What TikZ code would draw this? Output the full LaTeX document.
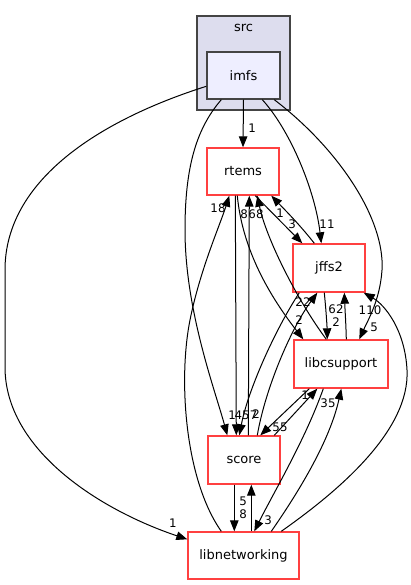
\documentclass[tikz,border=0pt]{standalone}
\usepackage{fontspec}
\setmainfont{DejaVu Sans}
\usetikzlibrary{arrows.meta,calc}
\definecolor{dxred}{HTML}{FF4040}
\definecolor{dxgray}{HTML}{444444}
\definecolor{clfill}{HTML}{DDDDEE}
\definecolor{imfill}{HTML}{EEEEFF}
\begin{document}
\begin{tikzpicture}[x=1pt,y=-1pt,
  dirbox/.style={draw=dxred,line width=1.4pt,fill=white,inner sep=0pt,
    font=\fontsize{13}{15}\selectfont},
  curbox/.style={draw=dxgray,line width=1.4pt,fill=imfill,inner sep=0pt,
    font=\fontsize{13}{15}\selectfont},
  clusterbox/.style={draw=dxgray,line width=1.2pt,fill=clfill},
  dep/.style={draw=black,line width=1pt,-{Triangle[length=11pt,width=8.5pt]}},
  lbl/.style={inner sep=0pt,font=\fontsize{11.8}{13}\selectfont}]
\useasboundingbox (0,0) rectangle (411,585);
% cluster src
\draw[clusterbox] (197,16) rectangle (290,110);
\node[inner sep=0pt,font=\fontsize{13}{15}\selectfont] (srclbl) at (243.5,28) {src};
% nodes
\node[curbox,minimum width=73pt,minimum height=47pt] (imfs) at (243.5,75.5) {imfs};
\node[dirbox,minimum width=72pt,minimum height=47pt] (rtems) at (243,171.5) {rtems};
\node[dirbox,minimum width=72pt,minimum height=48pt] (jffs2) at (329,268) {jffs2};
\node[dirbox,minimum width=94pt,minimum height=48pt] (libcsupport) at (341,364) {libcsupport};
\node[dirbox,minimum width=72pt,minimum height=48pt] (score) at (244,460) {score};
\node[dirbox,minimum width=111pt,minimum height=47pt] (libnetworking) at (243.5,555.5) {libnetworking};

% imfs edges
\draw[dep] (imfs.south) -- (rtems.north) node[lbl] at (252,128) {1};
\draw[dep] ($(imfs.north west)+(0,35)$) .. controls (100,120) and (5,180) .. (5,270)
  -- (5,367) .. controls (5,450) and (100,510) .. ($(libnetworking.north west)+(0,8)$)
  node[lbl] at (173,523) {1};
\draw[dep] ($(imfs.south west)+(15,0)$) .. controls (195,130) and (185,170) .. (185,230)
  .. controls (185,310) and (215,390) .. ($(score.north west)+(20,0)$)
  node[lbl] at (232,415) {1};
\draw[dep] ($(imfs.south west)+(56,0)$) .. controls (290,130) and (315,190) .. ($(jffs2.north west)+(29,0)$)
  node[lbl] at (327,224) {11};
\draw[dep] ($(imfs.south west)+(68,0)$) .. controls (340,150) and (385,220) .. (382,270)
  .. controls (380,300) and (368,320) .. ($(libcsupport.north west)+(66,0)$)
  node[lbl] at (374,327) {5};

% rtems edges
\draw[dep] ($(rtems.south west)+(49,0)$) -- ($(jffs2.north west)+(10,0)$)
  node[lbl] at (292,224) {3};
\draw[dep] ($(rtems.south west)+(29,0)$) -- ($(score.north west)+(29,0)$)
  node[lbl] at (246,415) {457};
\draw[dep] ($(rtems.south west)+(31,0)$) .. controls (242,245) and (265,290) .. ($(libcsupport.north west)+(10,0)$)
  node[lbl] at (299,320) {2};

% jffs2 edges
\draw[dep] ($(jffs2.north west)+(22,0)$) .. controls (300,225) and (285,210) .. ($(rtems.south west)+(65,0)$)
  node[lbl] at (280,213) {1};
\draw[dep] ($(jffs2.south west)+(7,0)$) .. controls (275,330) and (248,390) .. ($(score.north west)+(32,0)$)
  node[lbl] at (256,414) {2};
\draw[dep] ($(jffs2.south west)+(32,0)$) .. controls (326,310) and (327,325) .. ($(libcsupport.north west)+(34,0)$)
  node[lbl] at (336,322) {2};

% libcsupport edges
\draw[dep] ($(libcsupport.north west)+(33,0)$) .. controls (297,300) and (266,238) .. ($(rtems.south west)+(51,0)$)
  node[lbl] at (256,214) {68};
\draw[dep] ($(libcsupport.north west)+(53,0)$) .. controls (346,325) and (345,310) .. ($(jffs2.south west)+(52,0)$)
  node[lbl] at (336,309) {62};
\draw[dep] ($(libcsupport.south west)+(16,0)$) -- ($(score.north west)+(53,0)$)
  node[lbl] at (280,427) {55};
\draw[dep] ($(libcsupport.south west)+(30,0)$) .. controls (305,440) and (275,490) .. ($(libnetworking.north west)+(67,0)$)
  node[lbl] at (268,520) {3};

% score edges
\draw[dep] ($(score.north west)+(41,0)$) -- ($(rtems.south west)+(43,0)$)
  node[lbl] at (244,214) {8};
\draw[dep] ($(score.north west)+(50,0)$) .. controls (265,390) and (290,330) .. ($(jffs2.south west)+(25,0)$)
  node[lbl] at (303,302) {22};
\draw[dep] ($(score.north west)+(67,0)$) -- ($(libcsupport.south west)+(24,0)$)
  node[lbl] at (305,395) {1};
\draw[dep] ($(score.south west)+(27,0)$) -- ($(libnetworking.north west)+(47,0)$)
  node[lbl] at (243,514) {8};

% libnetworking edges
\draw[dep] ($(libnetworking.north west)+(34,0)$) .. controls (185,480) and (178,380) .. (190,320)
  .. controls (200,270) and (220,225) .. ($(rtems.south west)+(23,0)$)
  node[lbl] at (218,208) {18};
\draw[dep] ($(libnetworking.north west)+(64,0)$) -- ($(score.south west)+(44,0)$)
  node[lbl] at (243,501) {5};
\draw[dep] ($(libnetworking.north west)+(84,0)$) .. controls (300,490) and (330,440) .. ($(libcsupport.south west)+(48,0)$)
  node[lbl] at (328,403) {35};
\draw[dep] ($(libnetworking.north west)+(94,0)$) .. controls (340,490) and (410,430) .. (407,370)
  .. controls (405,330) and (385,305) .. ($(jffs2.south east)+(-2,0)$)
  node[lbl] at (370,310) {110};
\end{tikzpicture}
\end{document}
